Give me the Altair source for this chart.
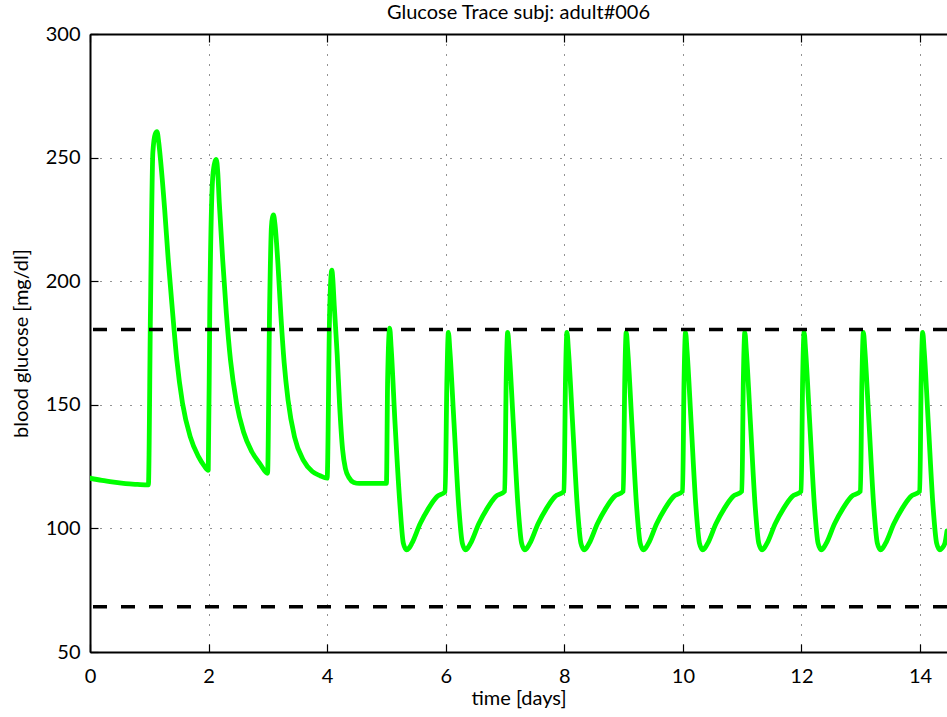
import altair as alt
import pandas as pd

# ---------------- data ----------------
TIME = [
    0.0, 0.2, 0.4, 0.6, 0.8, 0.985,
    1.02, 1.06, 1.10, 1.13, 1.16, 1.19, 1.26, 1.32, 1.39, 1.465, 1.56, 1.69, 1.83, 1.92, 1.995,
    2.02, 2.07, 2.11, 2.13, 2.155, 2.18, 2.24, 2.30, 2.37, 2.47, 2.59, 2.73, 2.87, 2.995,
    3.03, 3.06, 3.08, 3.095, 3.12, 3.17, 3.22, 3.275, 3.34, 3.45, 3.60, 3.75, 3.88, 4.0,
    4.04, 4.065, 4.08, 4.095, 4.12, 4.17, 4.21, 4.26, 4.31, 4.37, 4.45, 4.54, 4.8, 5.0,
    5.02, 5.055, 5.08, 5.145, 5.23, 5.285, 5.34, 5.38, 5.43, 5.57, 5.71, 5.85, 5.99,
    6.02, 6.045, 6.07, 6.14, 6.22, 6.28, 6.335, 6.37, 6.42, 6.56, 6.70, 6.84, 6.995,
    7.02, 7.045, 7.07, 7.14, 7.22, 7.28, 7.335, 7.37, 7.42, 7.56, 7.70, 7.84, 7.995,
    8.02, 8.045, 8.07, 8.14, 8.22, 8.28, 8.335, 8.37, 8.42, 8.56, 8.70, 8.84, 8.995,
    9.02, 9.045, 9.07, 9.14, 9.22, 9.28, 9.335, 9.37, 9.42, 9.56, 9.70, 9.84, 9.995,
    10.02, 10.045, 10.07, 10.14, 10.22, 10.28, 10.335, 10.37, 10.42, 10.56, 10.70, 10.84, 10.995,
    11.02, 11.045, 11.07, 11.14, 11.22, 11.28, 11.335, 11.37, 11.42, 11.56, 11.70, 11.84, 11.995,
    12.02, 12.045, 12.07, 12.14, 12.22, 12.28, 12.335, 12.37, 12.42, 12.56, 12.70, 12.84, 12.995,
    13.02, 13.045, 13.07, 13.14, 13.22, 13.28, 13.335, 13.37, 13.42, 13.56, 13.70, 13.84, 13.995,
    14.02, 14.045, 14.07, 14.14, 14.22, 14.28, 14.335, 14.37, 14.42, 14.455,
]
GLUCOSE = [
    120.3, 119.4, 118.7, 118.1, 117.8, 117.6,
    188, 252, 259.5, 260.5, 256, 249, 228.8, 208.6, 188.3, 168, 150.7, 137.1, 129, 125.5, 123.5,
    188, 242, 248.5, 249.3, 244, 232, 208, 187, 168, 151, 139, 131, 126, 122.3,
    190, 222, 226, 226.8, 223, 207, 186, 167, 152, 137, 127.5, 123, 121.3, 120.3,
    185, 202, 204.5, 201, 190, 170, 150, 132, 124, 120.5, 118.6, 118.2, 118.2, 118.2,
    160, 181, 173, 142.5, 108.8, 94, 91.3, 92, 94, 102, 108.1, 112.8, 114.8,
    160, 179.3, 172, 142.5, 108.8, 94, 91.3, 92, 94, 102, 108.1, 112.8, 115,
    160, 179.3, 172, 142.5, 108.8, 94, 91.3, 92, 94, 102, 108.1, 112.8, 115,
    160, 179.3, 172, 142.5, 108.8, 94, 91.3, 92, 94, 102, 108.1, 112.8, 115,
    160, 179.3, 172, 142.5, 108.8, 94, 91.3, 92, 94, 102, 108.1, 112.8, 115,
    160, 179.3, 172, 142.5, 108.8, 94, 91.3, 92, 94, 102, 108.1, 112.8, 115,
    160, 179.3, 172, 142.5, 108.8, 94, 91.3, 92, 94, 102, 108.1, 112.8, 115,
    160, 179.3, 172, 142.5, 108.8, 94, 91.3, 92, 94, 102, 108.1, 112.8, 115,
    160, 179.3, 172, 142.5, 108.8, 94, 91.3, 92, 94, 102, 108.1, 112.8, 115,
    160, 179.3, 172, 142.5, 108.8, 94, 91.3, 92, 94, 99,
]
THRESHOLDS = [180.5, 68.3]
X_TICKS = [0, 2, 4, 6, 8, 10, 12, 14]
Y_TICKS = [50, 100, 150, 200, 250, 300]
X_DOMAIN = [0, 14.455]
Y_DOMAIN = [50, 300]

TITLE = "Glucose Trace subj: adult#006"
X_TITLE = "time [days]"
Y_TITLE = "blood glucose [mg/dl]"

# ---------------- chart ----------------
W, H = 857, 618
FONT = "Lato"

df = pd.DataFrame({"t": TIME, "g": GLUCOSE})
thr = pd.DataFrame({"y": THRESHOLDS})

xs = alt.Scale(domain=X_DOMAIN, nice=False, zero=False)
ys = alt.Scale(domain=Y_DOMAIN, nice=False, zero=False)

grid_kw = dict(grid=True, gridDash=[1, 9], gridColor="#111", gridWidth=1, gridOpacity=0.9)

x_main = alt.Axis(values=X_TICKS, orient="bottom", ticks=False, tickSize=0,
                  domainColor="black", domainWidth=2,
                  labelFont=FONT, labelFontSize=20, labelColor="black", labelPadding=14,
                  labelFlush=False, format="d",
                  title=X_TITLE, titleFont=FONT, titleFontSize=20, titleFontWeight="normal",
                  titleColor="black", titleBaseline="alphabetic", titleY=52, **grid_kw)
y_main = alt.Axis(values=Y_TICKS, orient="left", ticks=False, tickSize=0,
                  domainColor="black", domainWidth=2,
                  labelFont=FONT, labelFontSize=20, labelColor="black", labelPadding=10,
                  labelFlush=False, format="d",
                  title=Y_TITLE, titleFont=FONT, titleFontSize=20, titleFontWeight="normal",
                  titleColor="black", titleBaseline="alphabetic", titleAngle=270,
                  titleAlign="center", titleX=-63, titleY=H / 2, **grid_kw)

tick_kw = dict(labels=False, title=None, grid=False, ticks=True, tickSize=8,
               tickColor="black", tickWidth=1.2)

# top frame with inward ticks
x_top = alt.Axis(values=X_TICKS, orient="bottom", offset=-H, domain=True,
                 domainColor="black", domainWidth=2, **tick_kw)
# bottom inward ticks
x_bot = alt.Axis(values=X_TICKS, orient="top", offset=-H, domain=False, **tick_kw)
# left inward ticks
y_left = alt.Axis(values=Y_TICKS, orient="right", offset=-W, domain=False, **tick_kw)

line = alt.Chart(df).mark_line(color="#00FF00", strokeWidth=4.8, strokeJoin="round",
                               strokeCap="round", interpolate="monotone", clip=True).encode(
    x=alt.X("t:Q", scale=xs, axis=x_main),
    y=alt.Y("g:Q", scale=ys, axis=y_main),
)

ticks_a = alt.Chart(df).mark_point(opacity=0).encode(
    x=alt.X("t:Q", scale=xs, axis=x_top),
    y=alt.Y("g:Q", scale=ys, axis=y_left),
)
ticks_b = alt.Chart(df).mark_point(opacity=0).encode(
    x=alt.X("t:Q", scale=xs, axis=x_bot),
    y=alt.Y("g:Q", scale=ys, axis=None),
)

rules = alt.Chart(thr).mark_rule(color="black", strokeWidth=3.5, strokeDash=[14, 14]).encode(
    y=alt.Y("y:Q", scale=ys, axis=None),
)

chart = alt.layer(line, ticks_a, ticks_b, rules).resolve_axis(
    x="independent", y="independent"
).properties(
    width=W, height=H,
    title=alt.TitleParams(TITLE, font=FONT, fontSize=20, fontWeight="normal", color="black",
                          anchor="middle", baseline="alphabetic", offset=6, dy=21),
    autosize=alt.AutoSizeParams(type="none"),
    padding={"left": 90, "top": 34, "right": 0, "bottom": 65},
).configure_view(stroke=None).configure(background="white")

chart.save("out.html", embed_options={"renderer": "svg", "actions": False})
